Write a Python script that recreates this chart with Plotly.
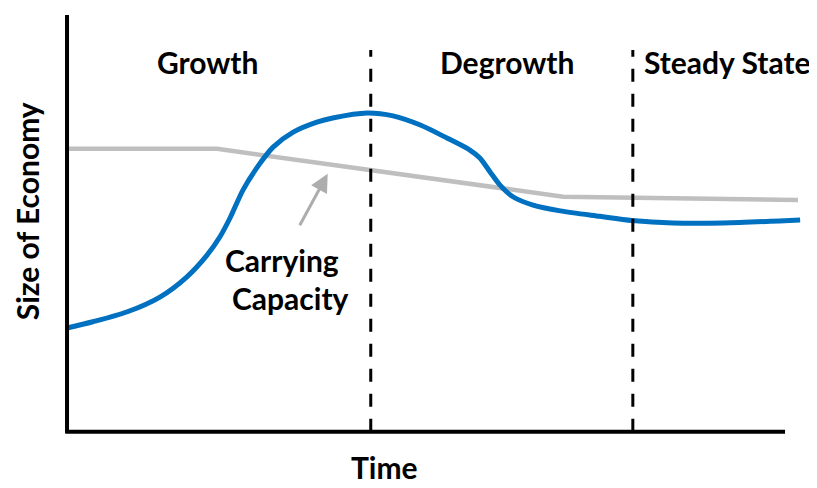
import plotly.graph_objects as go

# ---- data (time units 0..100, size units 0..100) ----
economy_time = [0, 3.6, 8.4, 13.0, 16.7, 19.5, 21.3, 22.7, 24.5, 26.5, 28.7, 31.5, 34.8, 37.0,
                41.8, 45.4, 49.2, 52.9, 56.1, 57.5, 58.9, 60.3, 62.1, 64.9, 68.7, 74.2,
                78.7, 84.4, 91.4, 102.1]
economy_size = [24.9, 26.4, 28.8, 32.4, 37.2, 42.4, 46.8, 51.3, 58.0, 63.5, 68.3, 71.9, 74.3, 75.3,
                76.5, 75.8, 73.6, 70.5, 67.6, 65.7, 62.4, 59.2, 56.4, 54.4, 53.0, 51.7,
                50.7, 50.1, 50.1, 50.8]

capacity_time = [0, 20.9, 69.1, 101.8]
capacity_size = [67.9, 67.9, 56.4, 55.6]

phase_bounds = [42.3, 78.8]
phase_labels = ["Growth", "Degrowth", "Steady State"]
phase_label_x = [19.5, 61.3, 92.0]
phase_label_y = 88.7
bound_top = 91.6

axis_end_x = 100
axis_top_y = 100

cap_label_lines = ["Carrying", "Capacity"]
cap_label_x = [29.9, 31.1]
cap_label_y = [41.2, 32.1]
arrow_tip = (36.3, 61.9)
arrow_tail = (32.3, 49.2)

FONT = "Lato"
FS = 30
BLUE = "#0070C0"
GREY = "#BFBFBF"

fig = go.Figure()
fig.add_trace(go.Scatter(x=capacity_time, y=capacity_size, mode="lines",
                         line=dict(color=GREY, width=4.5), hoverinfo="skip"))
fig.add_trace(go.Scatter(x=economy_time, y=economy_size, mode="lines",
                         line=dict(color=BLUE, width=5, shape="spline", smoothing=0.8),
                         hoverinfo="skip"))

shapes = []
for b in phase_bounds:
    shapes.append(dict(type="line", xref="x", yref="y", x0=b, x1=b, y0=0, y1=bound_top,
                       line=dict(color="black", width=3, dash="13px,12px"), layer="above"))
shapes.append(dict(type="line", xref="x", yref="y", x0=0, x1=0, y0=-0.2, y1=axis_top_y,
                   line=dict(color="black", width=4)))
shapes.append(dict(type="line", xref="x", yref="y", x0=-0.25, x1=axis_end_x, y0=0, y1=0,
                   line=dict(color="black", width=4)))

bold = dict(family=FONT, size=FS, color="black", weight=700)
annotations = []
for lbl, lx in zip(phase_labels, phase_label_x):
    annotations.append(dict(x=lx, y=phase_label_y, xref="x", yref="y", text=lbl, showarrow=False,
                            xanchor="center", yanchor="middle", font=bold))
for lbl, lx, ly in zip(cap_label_lines, cap_label_x, cap_label_y):
    annotations.append(dict(x=lx, y=ly, xref="x", yref="y", text=lbl, showarrow=False,
                            xanchor="center", yanchor="middle", font=bold))
annotations.append(dict(x=arrow_tip[0], y=arrow_tip[1], xref="x", yref="y",
                        ax=arrow_tail[0], ay=arrow_tail[1], axref="x", ayref="y",
                        text="", showarrow=True, arrowhead=2, arrowsize=1.2,
                        arrowwidth=3, arrowcolor="#ADADAD", standoff=0, startstandoff=0))
annotations.append(dict(x=-0.0486, y=0.534, xref="paper", yref="paper", text="Size of Economy",
                        textangle=-90, showarrow=False, xanchor="center", yanchor="middle",
                        font=bold))
annotations.append(dict(x=0.434, y=-0.074, xref="paper", yref="paper", text="Time",
                        showarrow=False, xanchor="center", yanchor="middle", font=bold))

# the page body adds an 8px offset; figure is sized/margined to compensate
fig.update_layout(
    width=809, height=480,
    margin=dict(l=55, r=14, t=7, b=52),
    paper_bgcolor="white", plot_bgcolor="white",
    showlegend=False,
    shapes=shapes, annotations=annotations,
    xaxis=dict(range=[-0.56, 102.5], visible=False, fixedrange=True),
    yaxis=dict(range=[-1.0, 100.0], visible=False, fixedrange=True),
)

fig.write_html("out.html")
